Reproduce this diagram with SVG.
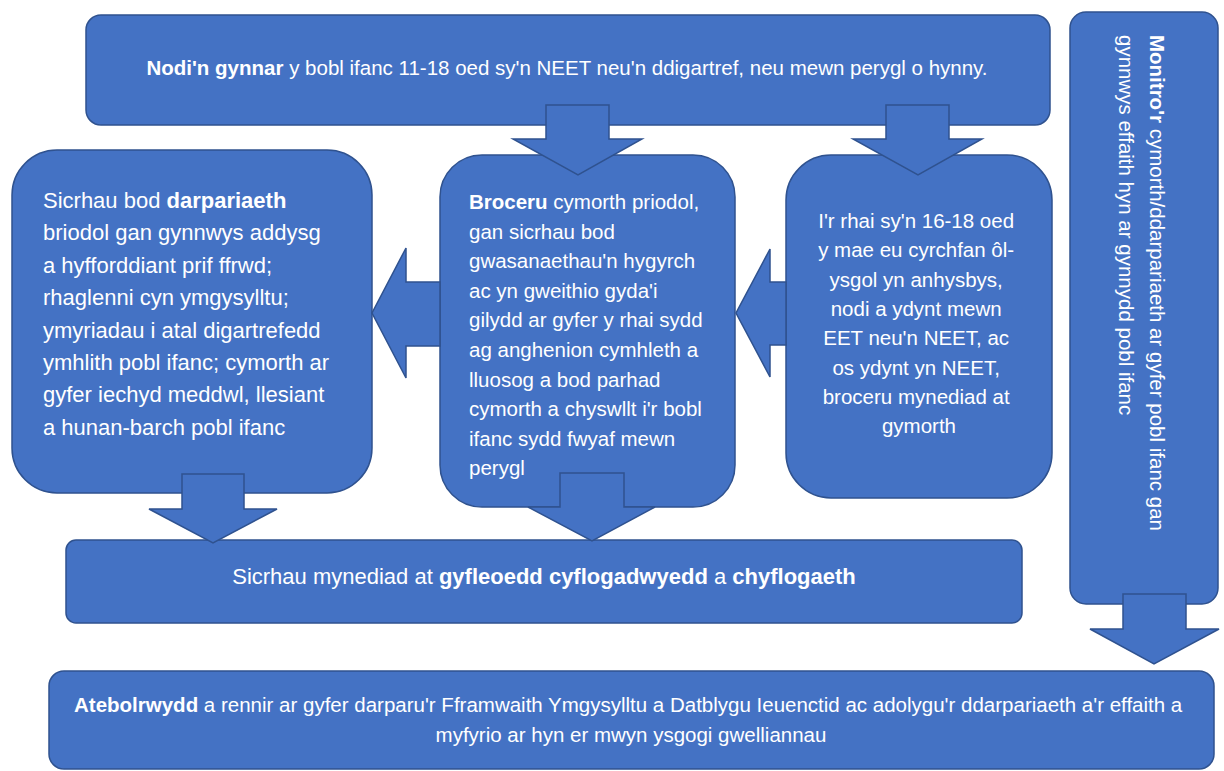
<svg xmlns="http://www.w3.org/2000/svg" width="1224" height="771" viewBox="0 0 1224 771">
<style>
.box{fill:#4472C4;stroke:#2F528F;stroke-width:1.5}
.arr{fill:#4472C4;stroke:#2F528F;stroke-width:1.5;stroke-linejoin:miter}
text{font-family:"Liberation Sans",Arial,sans-serif;fill:#FFFFFF}
.t20{font-size:20.5px}
.t22{font-size:22px}
.b{font-weight:bold}
</style>
<rect width="1224" height="771" fill="#FFFFFF"/>
<g id="node-top">
<rect class="box" x="86" y="15" width="964" height="110" rx="15"/>
<text class="t20" x="567" y="75" text-anchor="middle"><tspan class="b">Nodi'n gynnar</tspan> y bobl ifanc 11-18 oed sy'n NEET neu'n ddigartref, neu mewn perygl o hynny.</text>
</g>
<g id="node-monitor">
<rect class="box" x="1070" y="12" width="148" height="592" rx="16"/>
<text class="t20" transform="translate(1150,35) rotate(90)"><tspan class="b">Monitro'r</tspan> cymorth/ddarpariaeth ar gyfer pobl ifanc gan</text>
<text class="t20" transform="translate(1119,35) rotate(90)">gynnwys effaith hyn ar gynnydd pobl ifanc</text>
</g>
<g id="node-left">
<rect class="box" x="12" y="150" width="360" height="343" rx="45"/>
<text class="t22" x="43">
<tspan x="43" y="208">Sicrhau bod <tspan class="b">darpariaeth</tspan></tspan>
<tspan x="43" y="240">briodol gan gynnwys addysg</tspan>
<tspan x="43" y="273">a hyfforddiant prif ffrwd;</tspan>
<tspan x="43" y="305">rhaglenni cyn ymgysylltu;</tspan>
<tspan x="43" y="338">ymyriadau i atal digartrefedd</tspan>
<tspan x="43" y="370">ymhlith pobl ifanc; cymorth ar</tspan>
<tspan x="43" y="402">gyfer iechyd meddwl, llesiant</tspan>
<tspan x="43" y="435">a hunan-barch pobl ifanc</tspan>
</text>
</g>
<g id="node-middle">
<rect class="box" x="440" y="155" width="295" height="352" rx="42"/>
<text class="t20">
<tspan x="469" y="209"><tspan class="b">Broceru</tspan> cymorth priodol,</tspan>
<tspan x="469" y="238.6">gan sicrhau bod</tspan>
<tspan x="469" y="268.2">gwasanaethau'n hygyrch</tspan>
<tspan x="469" y="297.8">ac yn gweithio gyda'i</tspan>
<tspan x="469" y="327.4">gilydd ar gyfer y rhai sydd</tspan>
<tspan x="469" y="357">ag anghenion cymhleth a</tspan>
<tspan x="469" y="386.6">lluosog a bod parhad</tspan>
<tspan x="469" y="416.2">cymorth a chyswllt i'r bobl</tspan>
<tspan x="469" y="445.8">ifanc sydd fwyaf mewn</tspan>
<tspan x="469" y="475.4">perygl</tspan>
</text>
</g>
<g id="node-right">
<rect class="box" x="786" y="155" width="266" height="343" rx="45"/>
<text class="t20" text-anchor="middle">
<tspan x="919" y="228">I'r rhai sy'n 16-18 oed</tspan>
<tspan x="919" y="257.3">y mae eu cyrchfan ôl-</tspan>
<tspan x="919" y="286.6">ysgol yn anhysbys,</tspan>
<tspan x="919" y="315.9">nodi a ydynt mewn</tspan>
<tspan x="919" y="345.2">EET neu'n NEET, ac</tspan>
<tspan x="919" y="374.5">os ydynt yn NEET,</tspan>
<tspan x="919" y="403.8">broceru mynediad at</tspan>
<tspan x="919" y="433.1">gymorth</tspan>
</text>
</g>
<g id="node-employment">
<rect class="box" x="66" y="540" width="956" height="83" rx="10"/>
<text class="t22" x="544" y="584" text-anchor="middle">Sicrhau mynediad at <tspan class="b">gyfleoedd cyflogadwyedd</tspan> a <tspan class="b">chyflogaeth</tspan></text>
</g>
<g id="node-accountability">
<rect class="box" x="49" y="671" width="1165" height="98" rx="15"/>
<text class="t20" text-anchor="middle">
<tspan x="631" y="712"><tspan class="b">Atebolrwydd</tspan> a rennir ar gyfer darparu'r Fframwaith Ymgysylltu a Datblygu Ieuenctid ac adolygu'r ddarpariaeth a'r effaith a</tspan>
<tspan x="631" y="742">myfyrio ar hyn er mwyn ysgogi gwelliannau</tspan>
</text>
</g>
<g id="connectors">
<polygon class="arr" points="546,105 609,105 609,139 642,139 578,175 513,139 546,139"/>
<polygon class="arr" points="886,105 949,105 949,139 982,139 918,175 853,139 886,139"/>
<polygon class="arr" points="440,282 406,282 406,248 372,313 406,378 406,346 440,346"/>
<polygon class="arr" points="786,282 770,282 770,249 736,313 770,377 770,345 786,345"/>
<polygon class="arr" points="182,474 244,474 244,509 277,509 213,543 149,509 182,509"/>
<polygon class="arr" points="560,473 624,473 624,507 655,507 592,541 528,507 560,507"/>
<polygon class="arr" points="1123,594 1186,594 1186,629 1219,629 1154,664 1090,629 1123,629"/>
</g>
</svg>
